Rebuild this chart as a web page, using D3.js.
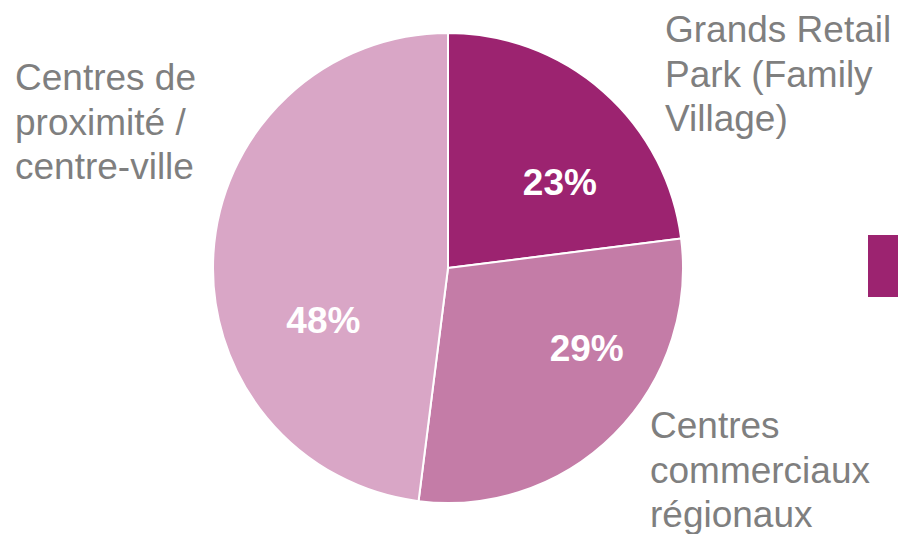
<!DOCTYPE html>
<html>
<head>
<meta charset="utf-8">
<script src="https://cdn.jsdelivr.net/npm/d3@7"></script>
<style>
  html, body { margin: 0; padding: 0; background: #ffffff; }
  svg { display: block; }
  text { font-family: "Liberation Sans", Arial, sans-serif; }
</style>
</head>
<body>
<svg id="chart" width="898" height="534"></svg>
<script>
// ---- data ----
const categories = ["Grands Retail Park (Family Village)", "Centres commerciaux régionaux", "Centres de proximité / centre-ville"];
const values = [23, 29, 48];
const percentLabels = ["23%", "29%", "48%"];
const categoryLines = [
  ["Grands Retail", "Park (Family", "Village)"],
  ["Centres", "commerciaux", "régionaux"],
  ["Centres de", "proximité /", "centre-ville"]
];
const colors = ["#9C2370", "#C47CA7", "#D9A6C6"];

// ---- layout (styling, not data) ----
const W = 898, H = 534;
const cx = 448, cy = 268, R = 235;
// label placement: polar angle (deg from top, clockwise) and radius for percent labels
const pctPlacement = [{a: 52.5, r: 141}, {a: 119.9, r: 160}, {a: 247.4, r: 135}];
const catPlacement = [{x: 665, y: 42}, {x: 650, y: 438}, {x: 15, y: 90}];
const lineH = 44.5;

const svg = d3.select("#chart");
const g = svg.append("g").attr("transform", `translate(${cx},${cy})`);

const pie = d3.pie().sort(null).value(d => d)(values);
const arc = d3.arc().innerRadius(0).outerRadius(R);

g.selectAll("path.slice")
  .data(pie)
  .join("path")
  .attr("class", "slice")
  .attr("d", arc)
  .attr("fill", (d, i) => colors[i])
  .attr("stroke", "#ffffff")
  .attr("stroke-width", 2)
  .attr("stroke-linejoin", "round");

g.selectAll("text.pct")
  .data(pie)
  .join("text")
  .attr("class", "pct")
  .attr("x", (d, i) => pctPlacement[i].r * Math.sin(pctPlacement[i].a * Math.PI / 180))
  .attr("y", (d, i) => -pctPlacement[i].r * Math.cos(pctPlacement[i].a * Math.PI / 180))
  .attr("dy", "0.35em")
  .attr("text-anchor", "middle")
  .attr("fill", "#ffffff")
  .attr("font-weight", "bold")
  .attr("font-size", 37)
  .text((d, i) => percentLabels[i]);

const cat = svg.selectAll("text.cat")
  .data(categoryLines)
  .join("text")
  .attr("class", "cat")
  .attr("x", (d, i) => catPlacement[i].x)
  .attr("y", (d, i) => catPlacement[i].y)
  .attr("fill", "#7F7F7F")
  .attr("font-size", 37);

cat.each(function(lines, i) {
  d3.select(this).selectAll("tspan")
    .data(lines)
    .join("tspan")
    .attr("x", catPlacement[i].x)
    .attr("y", (l, j) => catPlacement[i].y + j * lineH)
    .text(l => l);
});

// partially visible legend swatch at the right edge
svg.append("rect")
  .attr("x", 868).attr("y", 235)
  .attr("width", 40).attr("height", 62)
  .attr("fill", colors[0]);
</script>
</body>
</html>
